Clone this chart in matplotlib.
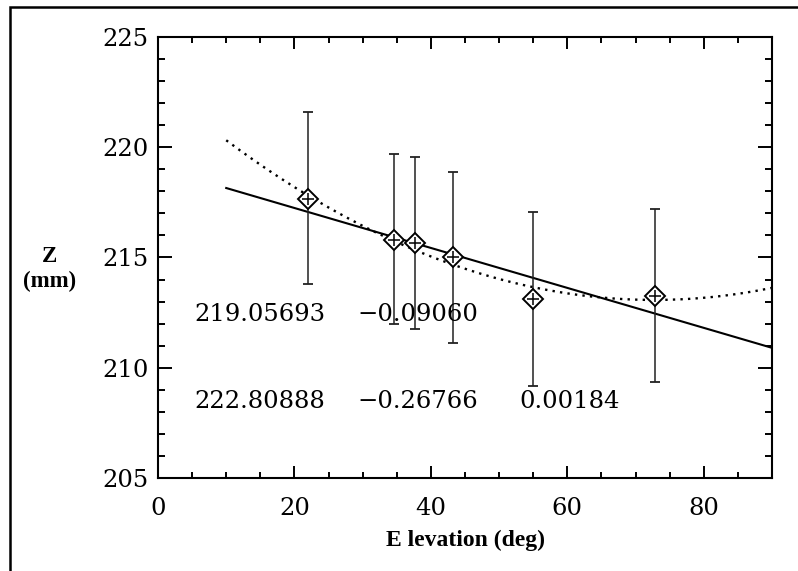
import matplotlib.pyplot as plt
import numpy as np
from matplotlib.patches import Rectangle
from matplotlib.ticker import MultipleLocator

# measured points (elevation deg, Z mm) with error bar ends
elev = [22.0, 34.6, 37.6, 43.3, 55.0, 72.9]
z = [217.67, 215.8, 215.66, 215.01, 213.13, 213.25]
z_hi = [221.6, 219.7, 219.56, 218.86, 217.05, 217.2]
z_lo = [213.8, 211.97, 211.74, 211.11, 209.18, 209.36]

# fit coefficients printed on the chart (constant, linear, quadratic)
lin_coef = [219.05693, -0.09060]
quad_coef = [222.80888, -0.26766, 0.00184]
fit_range = [10, 90]

lin_labels = ['219.05693', '\u22120.09060']
quad_labels = ['222.80888', '\u22120.26766', '0.00184']

fig = plt.figure(figsize=(7.98, 5.71), dpi=100)
ax = fig.add_axes([0.198, 0.1629, 0.7694, 0.7723])

# outer frame (only top/left visible in the crop)
fig.patches.append(Rectangle((10/798, -0.1), 1.2, 1 - 7/571 + 0.1, transform=fig.transFigure,
                             fill=False, lw=1.8, ec='black'))

xf = np.linspace(fit_range[0], fit_range[1], 200)
ax.plot(xf, np.polyval(lin_coef[::-1], xf), color='black', lw=1.5)
ax.plot(xf, np.polyval(quad_coef[::-1], xf), color='black', lw=1.7, ls=(0, (1, 2.2)))

yerr = [np.array(z) - np.array(z_lo), np.array(z_hi) - np.array(z)]
ax.errorbar(elev, z, yerr=yerr, fmt='none', ecolor='#222222', elinewidth=1.1,
            capsize=3.3, capthick=1.3)
ax.plot(elev, z, 'D', ms=10, mfc='white', mec='black', mew=1.4)
ax.plot(elev, z, '_', ms=9, color='black', mew=1.1)
ax.plot(elev, z, '|', ms=9, color='black', mew=1.1)

numfont = dict(family='DejaVu Serif', fontsize=17.5)
for xpos, s in zip([5.3, 29.2], lin_labels):
    ax.text(xpos, 212.4, s, va='center', ha='left', **numfont)
for xpos, s in zip([5.3, 29.2, 52.9], quad_labels):
    ax.text(xpos, 208.46, s, va='center', ha='left', **numfont)

ax.set_xlim(0, 90)
ax.set_ylim(205, 225)
ax.xaxis.set_minor_locator(MultipleLocator(5))
ax.yaxis.set_minor_locator(MultipleLocator(1))
ax.tick_params(which='both', direction='in', top=True, right=True, width=1.4)
ax.tick_params(axis='x', which='major', length=8.5, pad=13.5)
ax.tick_params(axis='x', which='minor', length=4.3)
ax.tick_params(axis='y', which='major', length=10, pad=7)
ax.tick_params(axis='y', which='minor', length=5)
ax.set_xticks([0, 20, 40, 60, 80])
ax.set_xticklabels(['0', '20', '40', '60', '80'], **numfont)
ax.set_yticks([205, 210, 215, 220, 225])
ax.set_yticklabels(['205', '210', '215', '220', '225'], **numfont)
for sp in ax.spines.values():
    sp.set_linewidth(1.5)

lfont = dict(family='Liberation Serif', fontweight='bold', ha='center', va='center')
fig.text(465/798, 1 - 540/571, 'E levation (deg)', fontsize=17, **lfont)
fig.text(50/798, 1 - 257/571, 'Z', fontsize=16.5, **lfont)
fig.text(50/798, 1 - 281/571, '(mm)', fontsize=16.5, **lfont)

plt.savefig('out.png', dpi=100)
